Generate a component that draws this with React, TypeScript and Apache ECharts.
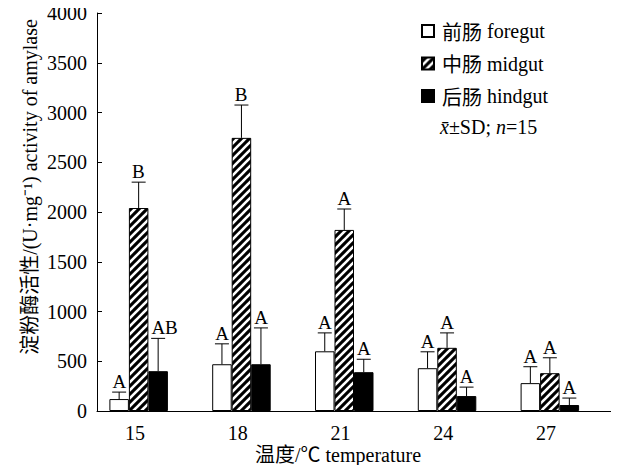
import React, { useEffect, useRef } from "react";
import * as echarts from "echarts";

const categories = ["15", "18", "21", "24", "27"];
const foregut = [120, 470, 600, 430, 280];
const foregutSD = [70, 205, 185, 165, 165];
const foregutLetters = ["A", "A", "A", "A", "A"];
const midgut = [2040, 2745, 1820, 635, 380];
const midgutSD = [260, 330, 210, 150, 155];
const midgutLetters = ["B", "B", "A", "A", "A"];
const hindgut = [400, 470, 390, 150, 60];
const hindgutSD = [330, 365, 130, 90, 70];
const hindgutLetters = ["AB", "A", "A", "A", "A"];
const seriesNames = ["前肠 foregut", "中肠 midgut", "后肠 hindgut"];
const yTicks = { min: 0, max: 4000, interval: 500 };

const SERIF = "'Liberation Serif', 'Times New Roman', serif";
const CJK = "'Noto Sans CJK SC', sans-serif";
const FONT = "'Liberation Serif', 'Noto Sans CJK SC', serif";
const BAR_W = 19.5;

function makeStripe() {
  const s = 8;
  const c = document.createElement("canvas");
  c.width = s;
  c.height = s;
  const ctx = c.getContext("2d")!;
  ctx.fillStyle = "#000";
  ctx.fillRect(0, 0, s, s);
  ctx.strokeStyle = "#fff";
  ctx.lineWidth = 2.6;
  const lines = [
    [0, s, s, 0],
    [-s / 2, s / 2, s / 2, -s / 2],
    [s / 2, s * 1.5, s * 1.5, s / 2],
  ];
  for (const [x1, y1, x2, y2] of lines) {
    ctx.beginPath();
    ctx.moveTo(x1, y1);
    ctx.lineTo(x2, y2);
    ctx.stroke();
  }
  return c;
}

// split a label into CJK-font and serif-font rich segments
function richify(s: string) {
  const m = s.match(/^([^A-Za-z(]*?)([ (A-Za-z].*)$/);
  if (!m) return s;
  return `{c|${m[1]}}{l|${m[2]}}`;
}

export default function App() {
  const ref = useRef<HTMLDivElement>(null);
  useEffect(() => {
    if (!ref.current) return;
    const chart = echarts.init(ref.current, null, { renderer: "svg" });
    const stripe = makeStripe();
    const pattern: any = { image: stripe, repeat: "repeat", imageWidth: 8, imageHeight: 8 };
    const rich = (size: number) => ({
      c: { fontFamily: CJK, fontSize: size, color: "#000" },
      l: { fontFamily: SERIF, fontSize: size, color: "#000" },
    });

    const errSeries = (vals: number[], sds: number[], letters: string[], idx: number) => ({
      type: "custom",
      silent: true,
      z: 5,
      data: vals.map((v, i) => [i, v, v + sds[i]]),
      renderItem: (params: any, api: any) => {
        const i = api.value(0);
        const base = api.coord([i, api.value(1)]);
        const top = api.coord([i, api.value(2)]);
        const x = base[0] + (idx - 1.5) * BAR_W;
        const left = x - BAR_W / 2;
        return {
          type: "group",
          children: [
            { type: "line", shape: { x1: x, y1: base[1], x2: x, y2: top[1] }, style: { stroke: "#000", lineWidth: 1 } },
            { type: "line", shape: { x1: x - 7, y1: top[1], x2: x + 7, y2: top[1] }, style: { stroke: "#000", lineWidth: 1 } },
            {
              type: "text",
              style: {
                text: letters[params.dataIndex],
                x: left + 3,
                y: top[1] - 1,
                align: "left",
                verticalAlign: "bottom",
                fill: "#000",
                fontSize: 19,
                fontFamily: SERIF,
              },
            },
          ],
        };
      },
    });

    const bar = (name: string, data: number[], color: any) => ({
      name,
      type: "bar",
      data,
      barWidth: BAR_W,
      barGap: "0%",
      itemStyle: { color, borderColor: "#000", borderWidth: 1 },
    });

    chart.setOption({
      animation: false,
      grid: { left: 97, right: 8, top: 13, bottom: 62 },
      legend: {
        orient: "vertical",
        left: 421,
        top: 21,
        padding: 0,
        data: seriesNames,
        icon: "rect",
        itemWidth: 12,
        itemHeight: 12,
        itemGap: 12.5,
        selectedMode: false,
        formatter: (n: string) => richify(n),
        textStyle: {
          fontFamily: FONT,
          fontSize: 20,
          color: "#000",
          lineHeight: 20,
          padding: [0, 0, 0, 3],
          rich: rich(20),
        },
      },
      graphic: [
        {
          type: "text",
          left: 440,
          top: 117,
          style: {
            text: "{i|x\u0304}±SD; {i|n}=15",
            fontFamily: SERIF,
            fontSize: 20,
            fill: "#000",
            rich: { i: { fontStyle: "italic", fontFamily: SERIF, fontSize: 20 } },
          },
        },
      ],
      xAxis: {
        type: "category",
        data: categories,
        name: "温度/℃ temperature",
        nameLocation: "middle",
        nameGap: 34,
        nameMoveOverlap: false,
        nameTextStyle: { fontFamily: FONT, fontSize: 20, color: "#000", padding: [0, 32, 0, 0] },
        axisLine: { lineStyle: { color: "#000", width: 1 } },
        axisTick: { inside: true, length: 5, lineStyle: { color: "#000" } },
        axisLabel: { fontFamily: SERIF, fontSize: 20, color: "#000", margin: 12, padding: [0, 27, 0, 0] },
      },
      yAxis: {
        type: "value",
        min: yTicks.min,
        max: yTicks.max,
        interval: yTicks.interval,
        name: "淀粉酶活性/(U·mg⁻¹) activity of amylase",
        nameLocation: "middle",
        nameGap: 57,
        nameMoveOverlap: false,
        nameRotate: 90,
        nameTextStyle: { fontFamily: FONT, fontSize: 20, color: "#000", padding: [0, 0, 0, 50] },
        axisLine: { show: true, lineStyle: { color: "#000", width: 1 } },
        axisTick: { show: true, inside: true, length: 5, lineStyle: { color: "#000" } },
        axisLabel: { fontFamily: SERIF, fontSize: 20, color: "#000", margin: 10, formatter: (v: number) => String(v) },
        splitLine: { show: false },
      },
      series: [
        bar(seriesNames[0], foregut, "#fff"),
        bar(seriesNames[1], midgut, pattern),
        bar(seriesNames[2], hindgut, "#000"),
        {
          name: "_spacer",
          type: "bar",
          data: categories.map(() => "-"),
          barWidth: BAR_W,
          barGap: "0%",
          silent: true,
          itemStyle: { color: "transparent", borderWidth: 0 },
        },
        errSeries(foregut, foregutSD, foregutLetters, 0),
        errSeries(midgut, midgutSD, midgutLetters, 1),
        errSeries(hindgut, hindgutSD, hindgutLetters, 2),
      ],
    });
    return () => chart.dispose();
  }, []);
  return <div ref={ref} style={{ width: 619, height: 473, margin: -8 }} />;
}
